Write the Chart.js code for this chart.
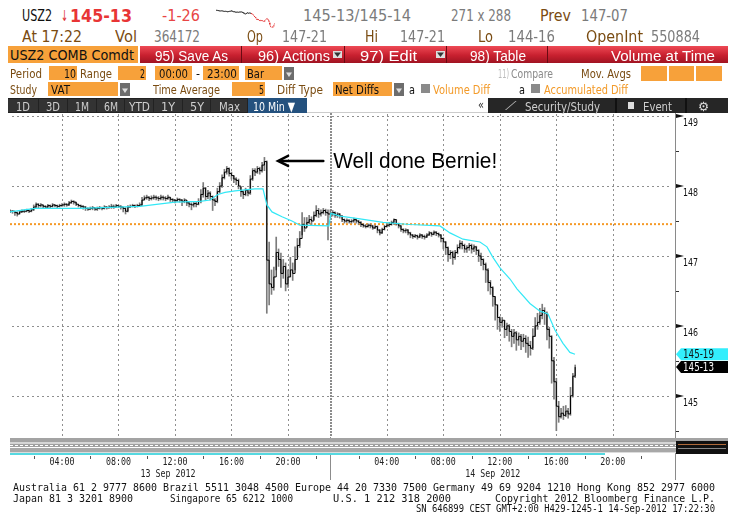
<!DOCTYPE html>
<html>
<head>
<meta charset="utf-8">
<script src="https://cdn.jsdelivr.net/npm/chart.js@4.4.0/dist/chart.umd.min.js"></script>
<style>
body{margin:0;width:736px;height:527px;background:#fff;position:relative;overflow:hidden;font-family:'DejaVu Sans',sans-serif;}
.t{position:absolute;white-space:pre;transform-origin:0 50%;}
.box{position:absolute;}
#chart{position:absolute;left:0;top:111px;}
#spark{position:absolute;left:216px;top:8px;}
</style>
</head>
<body>
<canvas id="spark" width="59" height="21"></canvas>
<canvas id="chart" width="736" height="375"></canvas>
<script>
// ---- data (10 min bars, prices in decimal points) ----
const sessionLen = 23;            // 00:00 - 23:00
const day1Start = '00:20';
const day2Start = '00:00';
const day1Close = [147.64,147.64,147.62,147.60,147.63,147.64,147.64,147.65,147.64,147.66,
  147.70,147.74,147.72,147.73,147.71,
  147.70,147.72,147.71,147.73,147.72,147.71,147.72,147.73,147.74,147.73,
  147.76,147.78,147.77,147.74,147.72,147.71,147.70,
  147.68,147.67,147.68,147.69,147.67,147.68,147.69,147.68,147.70,147.69,147.70,
  147.71,147.70,147.72,147.71,147.70,147.68,
  147.64,147.70,147.71,147.72,147.71,147.72,147.73,
  147.80,147.83,147.84,147.82,147.83,147.84,147.83,147.82,147.84,147.83,147.82,147.84,147.81,
  147.80,147.79,147.81,147.80,147.78,147.80,147.76,147.74,
  147.73,147.75,147.74,147.78,
  147.88,147.97,147.85,147.90,
  147.85,147.80,147.78,147.92,
  148.00,148.12,148.20,148.25,148.18,
  148.15,148.10,148.08,148.00,
  147.92,147.88,147.94,147.90,
  148.10,148.22,148.20,148.25,148.22,148.30,
  148.35,146.94,146.60,146.55,146.70,147.05,146.95,146.75,146.85,146.60,146.70,
  146.80,146.75,146.95,147.15,147.25,147.45,147.40,147.48,147.52,147.50,
  147.58,147.65,147.60,147.62,147.65,147.62,147.60];
const day1High = [147.66,147.65,147.64,147.63,147.65,147.66,147.66,147.67,147.66,147.68,
  147.73,147.76,147.75,147.75,147.73,
  147.72,147.74,147.73,147.75,147.74,147.73,147.74,147.75,147.76,147.75,
  147.78,147.80,147.79,147.77,147.74,147.73,147.72,
  147.71,147.69,147.70,147.71,147.69,147.70,147.71,147.70,147.72,147.71,147.72,
  147.74,147.73,147.74,147.73,147.72,147.70,
  147.69,147.72,147.73,147.74,147.73,147.74,147.76,
  147.84,147.86,147.87,147.85,147.86,147.87,147.86,147.85,147.87,147.86,147.85,147.87,147.84,
  147.82,147.81,147.83,147.82,147.81,147.82,147.79,147.77,
  147.76,147.77,147.77,147.82,
  147.95,148.05,147.98,147.94,
  147.92,147.86,147.82,147.97,
  148.05,148.16,148.24,148.28,148.26,
  148.20,148.15,148.12,148.10,
  147.98,147.93,147.97,147.95,
  148.15,148.25,148.25,148.28,148.27,148.34,
  148.41,148.36,147.20,146.80,146.84,147.27,147.10,147.04,146.95,146.90,146.80,
  146.98,146.90,147.13,147.25,147.35,147.62,147.55,147.55,147.58,147.56,
  147.63,147.72,147.68,147.66,147.68,147.67,147.66];
const day1Low = [147.62,147.61,147.58,147.57,147.60,147.62,147.62,147.63,147.62,147.63,
  147.65,147.69,147.69,147.70,147.69,
  147.68,147.69,147.69,147.70,147.70,147.69,147.70,147.71,147.71,147.71,
  147.72,147.75,147.74,147.72,147.70,147.69,147.67,
  147.65,147.65,147.66,147.66,147.65,147.65,147.67,147.66,147.67,147.67,147.68,
  147.68,147.68,147.69,147.69,147.67,147.63,
  147.60,147.63,147.69,147.70,147.69,147.70,147.71,
  147.72,147.80,147.81,147.79,147.80,147.81,147.80,147.79,147.80,147.80,147.79,147.81,147.78,
  147.77,147.76,147.78,147.77,147.72,147.76,147.72,147.70,
  147.66,147.70,147.70,147.73,
  147.76,147.84,147.80,147.82,
  147.80,147.65,147.72,147.76,
  147.90,147.98,148.10,148.17,148.14,
  148.10,148.05,148.02,147.96,
  147.85,147.82,147.86,147.86,
  147.88,148.08,148.15,148.18,148.17,148.20,
  148.22,146.18,146.30,146.45,146.51,146.80,146.85,146.55,146.68,146.50,146.55,
  146.70,146.65,146.80,146.98,147.12,147.30,147.35,147.42,147.46,147.45,
  147.52,147.56,147.55,147.57,147.60,147.58,147.23];
const day2Close = [147.60,147.62,147.58,147.60,147.57,
  147.52,147.50,147.51,147.49,147.50,147.52,147.50,147.48,
  147.45,147.43,147.42,147.44,147.43,147.40,147.42,
  147.37,147.33,147.38,
  147.42,147.44,147.45,147.48,147.52,147.46,147.43,
  147.38,147.36,147.37,147.33,
  147.30,147.28,147.29,147.27,147.30,147.28,147.27,
  147.30,147.33,147.31,147.34,147.32,147.30,
  147.25,147.20,147.12,
  147.02,147.05,146.98,147.05,
  147.12,147.18,147.15,147.10,
  147.12,147.15,147.10,147.13,147.08,147.00,
  146.95,146.88,146.80,146.62,146.55,146.42,146.30,
  146.12,146.05,146.08,145.95,146.00,145.92,145.85,145.90,
  145.80,145.85,145.78,145.82,145.75,145.72,145.68,145.85,
  146.00,146.05,146.15,146.22,146.18,145.95,145.85,
  145.50,145.20,144.85,144.70,
  144.75,144.72,144.78,144.74,145.00,145.28,145.41];
const day2High = [147.66,147.65,147.63,147.62,147.61,
  147.58,147.53,147.53,147.52,147.52,147.54,147.53,147.51,
  147.49,147.46,147.45,147.46,147.46,147.44,147.44,
  147.43,147.38,147.40,
  147.44,147.46,147.48,147.50,147.53,147.52,147.47,
  147.44,147.39,147.39,147.38,
  147.34,147.31,147.31,147.30,147.32,147.31,147.30,
  147.32,147.35,147.34,147.36,147.35,147.33,
  147.31,147.26,147.21,
  147.13,147.08,147.07,147.08,
  147.16,147.22,147.21,147.17,
  147.15,147.18,147.17,147.16,147.14,147.09,
  147.04,146.96,146.90,146.82,146.65,146.56,146.42,
  146.30,146.13,146.12,146.08,146.04,146.02,145.95,145.95,
  145.92,145.90,145.88,145.88,145.86,145.84,145.78,145.96,
  146.12,146.18,146.25,146.31,146.26,146.20,145.98,
  145.86,145.55,145.25,144.92,
  144.82,144.85,144.86,144.82,145.12,145.32,145.44];
const day2Low = [147.55,147.57,147.55,147.55,147.54,
  147.49,147.47,147.48,147.47,147.47,147.48,147.47,147.45,
  147.42,147.41,147.40,147.41,147.40,147.38,147.39,
  147.33,147.30,147.32,
  147.37,147.41,147.42,147.44,147.45,147.44,147.40,
  147.35,147.33,147.33,147.30,
  147.26,147.25,147.26,147.24,147.26,147.25,147.24,
  147.26,147.29,147.28,147.30,147.29,147.27,
  147.20,147.10,147.02,
  146.92,146.96,146.88,146.95,
  147.03,147.10,147.10,147.05,
  147.05,147.08,147.04,147.06,147.02,146.92,
  146.86,146.80,146.62,146.50,146.45,146.28,146.08,
  145.95,145.92,145.98,145.83,145.86,145.78,145.70,145.75,
  145.65,145.72,145.66,145.70,145.62,145.55,145.58,145.66,
  145.85,145.95,146.02,146.10,146.02,145.80,145.68,
  145.18,144.95,144.50,144.62,
  144.68,144.66,144.70,144.68,144.72,144.98,145.26];
// VAT (volume-at-time average), session hours from 13 Sep 00:00
const vatHours  = [0.32,2.09,5.27,9.52,12.0,13.77,14.48,15.04,15.54,16.25,17.66,18.23,18.51,18.87,19.58,20.28,20.85,22.9,
  23.04,23.68,25.1,26.73,28.64,30.76,31.47,32.39,33.59,34.09,34.51,35.01,35.72,36.21,37.13,37.84,38.41,38.9,39.47,39.96,40.32];
const vatValues = [147.63,147.68,147.68,147.71,147.77,147.78,147.80,147.88,147.91,147.93,147.96,147.96,147.73,147.63,147.56,147.50,147.44,147.43,
  147.61,147.57,147.53,147.48,147.45,147.43,147.33,147.24,147.20,147.13,146.98,146.83,146.67,146.53,146.32,146.21,146.17,145.94,145.75,145.62,145.594];
const refLevel = 147.455;
const yTicks = [145,146,147,148,149];
const yMinor = [144.5,145.5,146.5,147.5,148.5];
const xTickHours  = [4,8,12,16,20,27,31,35,39,43];
const xTickLabels = ['04:00','08:00','12:00','16:00','20:00','04:00','08:00','12:00','16:00','20:00'];
const xMinorHours = [2,6,10,14,18,22,25,29,33,37,41,45];
const dayLabels  = ['13 Sep 2012','14 Sep 2012'];
const dayCentres = [11.5,34.5];
const note = 'Well done Bernie!';

// ---- header ----
const BR = '#7a4c12', GY = '#7b7b7b';
function txt(s, x, yc, w, color, size, weight, font) {
  const e = document.createElement('div');
  e.className = 't';
  e.textContent = s;
  e.style.left = x + 'px';
  e.style.top = (yc - size / 2) + 'px';
  e.style.fontSize = size + 'px';
  e.style.lineHeight = size + 'px';
  e.style.color = color;
  if (weight) e.style.fontWeight = weight;
  if (font) e.style.fontFamily = font;
  document.body.appendChild(e);
  if (w) e.style.transform = 'scaleX(' + (w / e.getBoundingClientRect().width) + ')';
  return e;
}
function box(x, y, w, h, bg, extra) {
  const e = document.createElement('div');
  e.className = 'box';
  e.style.cssText = 'left:' + x + 'px;top:' + y + 'px;width:' + w + 'px;height:' + h + 'px;background:' + bg + ';' + (extra || '');
  document.body.appendChild(e);
  return e;
}
// row 1 & 2
[['USZ2',22,16,30,'#111'],['\u2193',61,16,7,'#e03030'],['145-13',70,16,62,'#e83535',17,'bold'],
 ['-1-26',162,16,38,'#e84545'],['145-13/145-14',303,16,108,GY],['271 x 288',451,16,60,GY],
 ['Prev',540,16,31,BR],['147-07',581,16,47,GY],
 ['At 17:22',22,37,60,BR],['Vol',115,37,22,BR],['364172',154,37,46,GY],['Op',247,37,16,BR],
 ['147-21',282,37,45,GY],['Hi',365,37,13,BR],['147-21',400,37,45,GY],['Lo',478,37,15,BR],
 ['144-16',508,37,47,GY],['OpenInt',586,37,57,BR],['550884',651,37,49,GY]
].forEach(a => txt(a[0], a[1], a[2], a[3], a[4], a[5] || 15, a[6]));

// row 3 : command bar
const OR = '#f7a13a';
box(8, 46, 130, 17, OR);
txt('USZ2 COMB Comdt', 10, 55, 124, '#111', 14);
box(140, 46, 588, 17, 'linear-gradient(#ee4a55,#c8202f 55%,#a01422)');
[241, 344, 446, 547].forEach(x => box(x, 46, 1, 17, '#6a0a12'));
[['95) Save As',155,73],['96) Actions',258,72],['97) Edit',360,57],['98) Table',470,56],['Volume at Time',611,104]]
  .forEach(a => txt(a[0], a[1], 55, a[2], '#fff', 15, null, "'Liberation Sans',sans-serif"));
[333, 436].forEach(x => { box(x, 51, 9, 7, '#ddd'); txt('\u25BE', x + 1, 54, 7, '#333', 9); });

// row 4 & 5 : settings
function drop(x, y) { box(x, y, 10, 13, '#6d6d6d'); txt('\u25BE', x + 2, y + 7, 6, '#ddd', 9); }
box(49, 66, 28, 14, OR); box(118, 66, 28, 14, OR); box(155, 66, 37, 14, OR);
box(203, 66, 36, 14, OR); box(245, 66, 37, 14, OR); drop(284, 67);
box(641, 66, 26, 15, OR); box(669, 66, 25, 15, OR); box(696, 66, 26, 15, OR);
box(48, 82, 70, 14, OR); drop(120, 83); box(232, 82, 33, 14, OR);
box(333, 82, 59, 14, OR); drop(394, 83);
box(421, 84, 9, 9, '#8a8a8a'); box(531, 84, 9, 9, '#8a8a8a');
const F2 = "'DejaVu Sans',sans-serif";
[['Period',10,73,32,BR],['10',64,73,12,'#111'],['Range',80,73,32,BR],['2',140,73,5,'#111'],
 ['00:00',159,73,29,'#111'],['-',196,73,4,'#111'],['23:00',207,73,30,'#111'],['Bar',247,73,17,'#111'],
 ['11)',498,73,11,'#bbb'],['Compare',511,73,42,'#8a8a8a'],['Mov. Avgs',581,73,50,BR],
 ['Study',10,89,27,BR],['VAT',51,89,19,'#111'],['Time Average',153,89,67,BR],['5',259,89,5,'#111'],
 ['Diff Type',277,89,46,BR],['Net Diffs',335,89,44,'#111'],['a',409,89,6,'#111'],
 ['Volume Diff',433,89,57,'#f39a28'],['a',519,89,6,'#111'],['Accumulated Diff',544,89,84,'#f39a28']
].forEach(a => txt(a[0], a[1], a[2], a[3], a[4], 13, null, F2));

// row 6 : range buttons
box(8, 98, 299, 15, '#222');
[[8,38,'1D'],[39,67,'3D'],[68,96,'1M'],[97,124,'6M'],[125,153,'YTD'],[154,182,'1Y'],[183,210,'5Y'],[211,247,'Max']]
  .forEach(b => { box(b[0], 99, b[1] - b[0], 13, '#333'); txt(b[2], (b[0] + b[1]) / 2 - b[2].length * 3.5, 106, b[2].length * 7, '#cfcfcf', 13, null, F2); });
box(248, 98, 59, 15, '#24517e');
txt('10 Min \u25BC', 253, 106, 42, '#fff', 13, null, F2);
box(307, 98, 181, 15, '#fff', 'border-bottom:1px solid #ccc;box-sizing:border-box;');
txt('\u00AB', 478, 105, 6, '#333', 12);
box(488, 98, 240, 15, '#262626');
[615, 685].forEach(x => box(x, 98, 2, 15, '#111'));
txt('\u27CB', 505, 106, 11, '#bbb', 12);
txt('Security/Study', 525, 106, 75, '#cfcfcf', 13, null, F2);
box(628, 102, 6, 7, '#ddd');
txt('Event', 643, 106, 29, '#cfcfcf', 13, null, F2);
txt('\u2699', 698, 106, 11, '#ddd', 13);

// footer
const F3 = "'DejaVu Sans Mono',monospace";
txt('Australia 61 2 9777 8600 Brazil 5511 3048 4500 Europe 44 20 7330 7500 Germany 49 69 9204 1210 Hong Kong 852 2977 6000', 13, 487, 702, '#111', 10.5, null, F3);
txt('Japan 81 3 3201 8900', 13, 498, 120, '#111', 10.5, null, F3);
txt('Singapore 65 6212 1000', 170, 498, 123, '#111', 10.5, null, F3);
txt('U.S. 1 212 318 2000', 333, 498, 118, '#111', 10.5, null, F3);
txt('Copyright 2012 Bloomberg Finance L.P.', 495, 498, 220, '#111', 10.5, null, F3);
txt('SN 646899 CEST GMT+2:00 H429-1245-1 14-Sep-2012 17:22:30', 416, 508, 299, '#111', 10.5, null, F3);

// ---- series built from the arrays ----
function hourOf(start, day, i) {
  const p = start.split(':').map(Number);
  return day * sessionLen + p[0] + p[1] / 60 + i / 6;
}
const bars = [], closes = [];
[[day1Start, day1Low, day1High, day1Close], [day2Start, day2Low, day2High, day2Close]].forEach((d, k) => {
  d[3].forEach((c, i) => {
    const h = hourOf(d[0], k, i);
    bars.push({x: h, y: [d[1][i], d[2][i]]});
    closes.push({x: h, y: c});
  });
});
const vat = vatHours.map((h, i) => ({x: h, y: vatValues[i]}));
const xMin = 0.32, xMax = 47.4;
const fmt32 = v => Math.floor(v) + '-' + String(Math.round((v - Math.floor(v)) * 32)).padStart(2, '0');

const decor = {
  id: 'decor',
  beforeDatasetsDraw(chart) {
    // dotted grid
    const c = chart.ctx, a = chart.chartArea, xs = chart.scales.x, ys = chart.scales.y;
    c.save();
    c.fillStyle = '#8f8f8f';
    yTicks.forEach(v => {
      const y = Math.round(ys.getPixelForValue(v));
      for (let x = a.left + 2; x < a.right - 3; x += 5) c.fillRect(x, y, 2, 1);
    });
    xTickHours.forEach(h => {
      const x = Math.round(xs.getPixelForValue(h));
      for (let y = a.top + 1; y < a.bottom; y += 5) c.fillRect(x, y, 1, 2);
    });
    // day separator
    const xd = Math.round(xs.getPixelForValue(sessionLen));
    c.fillStyle = '#8c8c8c';
    for (let y = a.top; y < a.bottom; y += 3) c.fillRect(xd, y, 2, 2);
    c.restore();
  },
  afterDraw(chart) {
    const c = chart.ctx, a = chart.chartArea, xs = chart.scales.x, ys = chart.scales.y;
    c.save();
    const xd = Math.round(xs.getPixelForValue(sessionLen)) + 0.5;
    c.strokeStyle = '#8c8c8c'; c.lineWidth = 1;
    c.beginPath(); c.moveTo(xd, a.bottom); c.lineTo(xd, a.bottom + 43); c.stroke();
    // right axis line
    c.strokeStyle = '#8a8a8a';
    c.beginPath(); c.moveTo(a.right + 0.5, a.top - 2); c.lineTo(a.right + 0.5, a.bottom + 43); c.stroke();
    // bottom band
    const bx0 = a.left, bx1 = 728, by = a.bottom + 1, bw = bx1 - bx0;
    c.fillStyle = '#a3a3a3'; c.fillRect(bx0, by, bw, 4);
    c.fillStyle = '#d6d6d6'; c.fillRect(bx0, by + 4, bw, 2);
    c.fillStyle = '#a0a0a0'; c.fillRect(bx0, by + 6, bw, 3);
    c.fillStyle = '#ffffff'; c.fillRect(bx0, by + 9, bw, 1);
    c.fillStyle = '#a8a8a8'; c.fillRect(bx0, by + 10, bw, 4);
    c.fillStyle = '#dcdcdc'; c.fillRect(bx0, by + 14, bw, 1);
    c.strokeStyle = '#fff'; c.setLineDash([3, 2]);
    c.beginPath(); c.moveTo(bx0, by + 7.5); c.lineTo(bx1, by + 7.5); c.stroke();
    c.setLineDash([]);
    c.fillStyle = '#56d8e0'; c.fillRect(bx0, by + 15, a.right - bx0 - 70, 2);
    c.fillStyle = '#111'; c.fillRect(a.right + 1, by + 3, bx1 - a.right - 1, 13);
    c.fillStyle = '#b06a3a'; c.fillRect(a.right + 3, by + 6, bx1 - a.right - 5, 1);
    c.fillStyle = '#888'; c.fillRect(a.right + 3, by + 10, bx1 - a.right - 5, 1);
    // x labels, dates, minor ticks
    c.fillStyle = '#222'; c.textAlign = 'center'; c.textBaseline = 'middle';
    c.font = "11px 'DejaVu Sans Mono'";
    xTickHours.forEach((h, i) => c.fillText(xTickLabels[i], xs.getPixelForValue(h), a.bottom + 25, 25));
    dayCentres.forEach((h, i) => c.fillText(dayLabels[i], xs.getPixelForValue(h), a.bottom + 37, 55));
    c.fillStyle = '#555';
    xMinorHours.forEach(h => c.fillRect(Math.round(xs.getPixelForValue(h)), a.bottom + 19, 1, 3));
    // y ticks: flags, labels, minor ticks
    c.textAlign = 'left'; c.textBaseline = 'top'; c.font = "11px 'DejaVu Sans'";
    yTicks.forEach(v => {
      const y = Math.round(ys.getPixelForValue(v));
      c.fillStyle = '#111';
      c.beginPath(); c.moveTo(a.right + 1, y - 2); c.lineTo(a.right + 9, y); c.lineTo(a.right + 1, y + 2); c.closePath(); c.fill();
      c.fillText(String(v), a.right + 8, y + 2, 15);
    });
    c.fillStyle = '#333';
    yMinor.forEach(v => c.fillRect(a.right + 1, Math.round(ys.getPixelForValue(v)), 3, 1));
    // last value boxes
    [[vatValues[vatValues.length - 1], '#33eefc', '#111'], [day2Close[day2Close.length - 1], '#000', '#fff']].forEach(b => {
      const y = ys.getPixelForValue(b[0]);
      c.fillStyle = b[1];
      c.beginPath(); c.moveTo(a.right + 1, y); c.lineTo(a.right + 6, y - 6); c.lineTo(728, y - 6); c.lineTo(728, y + 6); c.lineTo(a.right + 6, y + 6); c.closePath(); c.fill();
      c.fillStyle = b[2]; c.textBaseline = 'middle'; c.font = "12px 'DejaVu Sans'";
      c.fillText(fmt32(b[0]), a.right + 8, y + 1, 31);
    });
    // annotation
    const ay = ys.getPixelForValue(148.36);
    const tip = xs.getPixelForValue(19.3), tail = xs.getPixelForValue(22.5);
    c.strokeStyle = '#000'; c.lineWidth = 2.5; c.lineCap = 'round';
    c.beginPath(); c.moveTo(tail, ay); c.lineTo(tip + 2, ay); c.stroke();
    c.beginPath(); c.moveTo(tip + 10, ay - 5); c.lineTo(tip, ay); c.lineTo(tip + 10, ay + 5); c.stroke();
    c.fillStyle = '#000'; c.textAlign = 'left'; c.textBaseline = 'alphabetic';
    c.font = "22px 'Liberation Sans'";
    c.fillText(note, xs.getPixelForValue(23.2), ay + 7, 164);
    c.restore();
  }
};

new Chart(document.getElementById('chart'), {
  type: 'line',
  data: {
    datasets: [
      {type: 'bar', data: bars, backgroundColor: '#7c7c7c', barThickness: 1, order: 3},
      {data: closes, borderColor: '#000', borderWidth: 1, stepped: true, pointRadius: 0, order: 2},
      {data: vat, borderColor: '#33e8f6', borderWidth: 1.2, pointRadius: 0, tension: 0, order: 1},
      {data: [{x: xMin, y: refLevel}, {x: xMax - 0.1, y: refLevel}], borderColor: '#f59a28', borderWidth: 2, borderDash: [2, 2], pointRadius: 0, order: 4}
    ]
  },
  options: {
    responsive: false,
    animation: false,
    layout: {padding: {left: 10, top: 2, right: 0, bottom: 0}},
    plugins: {legend: {display: false}, tooltip: {enabled: false}},
    scales: {
      x: {
        type: 'linear', min: xMin, max: xMax, offset: false,
        afterBuildTicks: s => { s.ticks = xTickHours.map(v => ({value: v})); },
        afterFit: s => { s.height = 49; },
        ticks: {display: false},
        grid: {display: false},
        border: {display: false}
      },
      y: {
        position: 'right', min: 144.41, max: 149.045,
        afterBuildTicks: s => { s.ticks = yTicks.map(v => ({value: v})); },
        afterFit: s => { s.width = 61; },
        ticks: {display: false},
        grid: {display: false},
        border: {display: false}
      }
    }
  },
  plugins: [decor]
});

// sparkline in header (day 2 closes)
new Chart(document.getElementById('spark'), {
  type: 'line',
  data: {datasets: [{
    data: day2Close.map((v, i) => ({x: i, y: v})),
    borderWidth: 1, pointRadius: 0,
    segment: {borderColor: ctx => ctx.p0DataIndex < 62 ? '#111' : '#e02020', borderDash: ctx => ctx.p0DataIndex < 62 ? undefined : [2, 1]}
  }]},
  options: {
    responsive: false, animation: false,
    plugins: {legend: {display: false}, tooltip: {enabled: false}},
    scales: {x: {type: 'linear', display: false, min: 0, max: 104}, y: {display: false, min: 144.4, max: 148}}
  }
});
</script>
</body>
</html>
